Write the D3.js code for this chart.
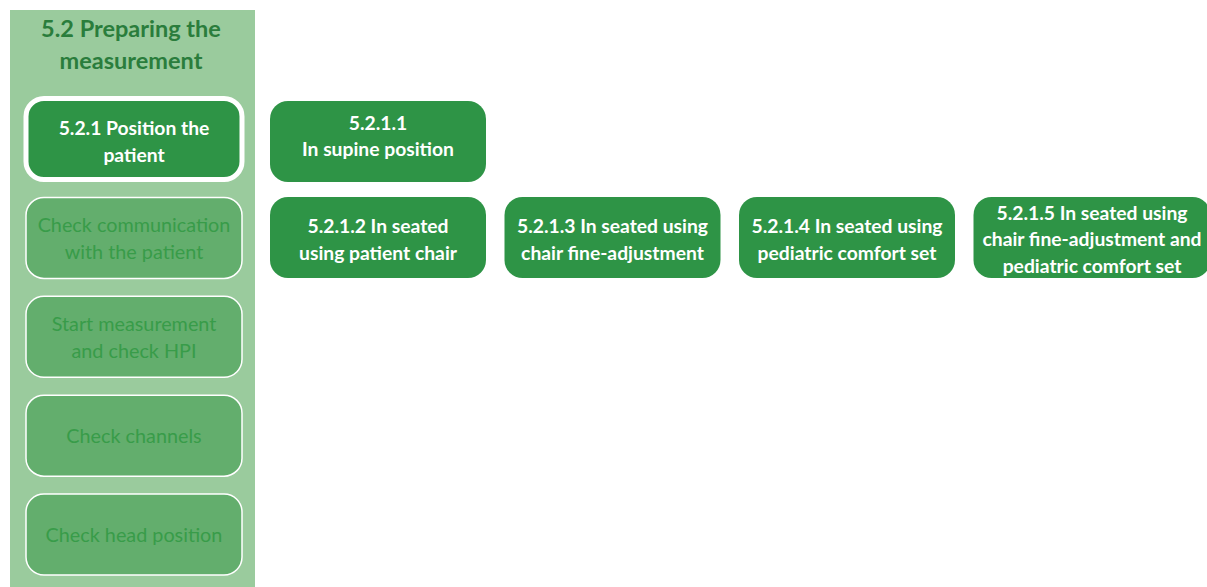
<!DOCTYPE html>
<html>
<head>
<meta charset="utf-8">
<script src="https://cdn.jsdelivr.net/npm/d3@7"></script>
<style>
  html, body { margin: 0; padding: 0; background: #fff; }
  svg { display: block; }
</style>
</head>
<body>
<svg width="1207" height="587"></svg>
<script>
var width = 1207;
var height = 587;

// section title and the steps of the left column
var panelTitle = ['5.2 Preparing the', 'measurement'];
var steps = [
  ['5.2.1 Position the', 'patient'],
  ['Check communication', 'with the patient'],
  ['Start measurement', 'and check HPI'],
  ['Check channels'],
  ['Check head position']
];
var activeStep = 0;

// sub steps of the active step, with their grid cell
var subSteps = [
  ['5.2.1.1', 'In supine position'],
  ['5.2.1.2 In seated', 'using patient chair'],
  ['5.2.1.3 In seated using', 'chair fine-adjustment'],
  ['5.2.1.4 In seated using', 'pediatric comfort set'],
  ['5.2.1.5 In seated using', 'chair fine-adjustment and', 'pediatric comfort set']
];
var subRows = [0, 1, 1, 1, 1];
var subCols = [0, 0, 1, 2, 3];

var font = 'Lato, "Open Sans", sans-serif';
var boxW = 216, boxH = 81, radius = 18, lineH = 26.5;

var svg = d3.select('svg');

var stepScale = d3.scaleLinear().domain([0, steps.length - 1]).range([98.5, 494]);
var colScale = d3.scaleLinear().domain([0, 3]).range([270, 973.5]);
var rowScale = d3.scaleLinear().domain([0, 1]).range([101, 197]);

// left panel
svg.append('rect')
  .attr('x', 10).attr('y', 10)
  .attr('width', 245).attr('height', height - 10)
  .attr('fill', '#9acb9d');

svg.append('g').selectAll('text').data(panelTitle).enter()
  .append('text')
  .attr('x', 131)
  .attr('y', function(d, i) { return 37 + i * 32; })
  .attr('text-anchor', 'middle')
  .attr('font-family', font)
  .attr('font-weight', 'bold')
  .attr('font-size', '23.5px')
  .attr('fill', '#2a7d3c')
  .text(function(d) { return d; });

function addLines(g, lines, cx, cy) {
  g.selectAll('text.line').data(lines).enter()
    .append('text')
    .attr('class', 'line')
    .attr('x', cx)
    .attr('y', function(d, i) { return cy + (i - (lines.length - 1) / 2) * lineH; })
    .attr('dy', '0.38em')
    .attr('text-anchor', 'middle')
    .text(function(d) { return d; });
}

var stepGroups = svg.append('g').selectAll('g').data(steps).enter()
  .append('g')
  .attr('transform', function(d, i) { return 'translate(26,' + stepScale(i) + ')'; });

stepGroups.append('rect')
  .attr('width', boxW).attr('height', boxH)
  .attr('rx', radius).attr('ry', radius)
  .attr('fill', function(d, i) { return i == activeStep ? '#2e9446' : '#63ae6d'; })
  .attr('stroke', '#fff')
  .attr('stroke-width', function(d, i) { return i == activeStep ? 5 : 1.5; });

stepGroups.each(function(d, i) {
  var g = d3.select(this)
    .attr('font-family', font)
    .attr('font-size', i == activeStep ? '19.3px' : '19.8px')
    .attr('font-weight', i == activeStep ? 'bold' : 'normal')
    .attr('fill', i == activeStep ? '#fff' : '#389c49');
  addLines(g, d, boxW / 2, boxH / 2 + (i == activeStep ? 2 : 0));
});

// sub step boxes
var subGroups = svg.append('g').selectAll('g').data(subSteps).enter()
  .append('g')
  .attr('transform', function(d, i) { return 'translate(' + colScale(subCols[i]) + ',' + rowScale(subRows[i]) + ')'; })
  .attr('font-family', font)
  .attr('font-size', '19.3px')
  .attr('font-weight', 'bold')
  .attr('fill', '#fff');

subGroups.each(function(d, i) {
  var g = d3.select(this);
  var rect = g.append('rect');
  // the single top box has its label set a little high
  addLines(g, d, 0, boxH / 2 + (subRows[i] == 0 ? -6 : 1.5));
  var widest = 0;
  g.selectAll('text').each(function() { widest = Math.max(widest, this.getComputedTextLength()); });
  var w = Math.max(boxW, widest + 18);
  g.selectAll('text').attr('x', w / 2);
  rect.attr('width', w).attr('height', boxH)
    .attr('rx', radius).attr('ry', radius)
    .attr('fill', '#2e9446');
});
</script>
</body>
</html>
